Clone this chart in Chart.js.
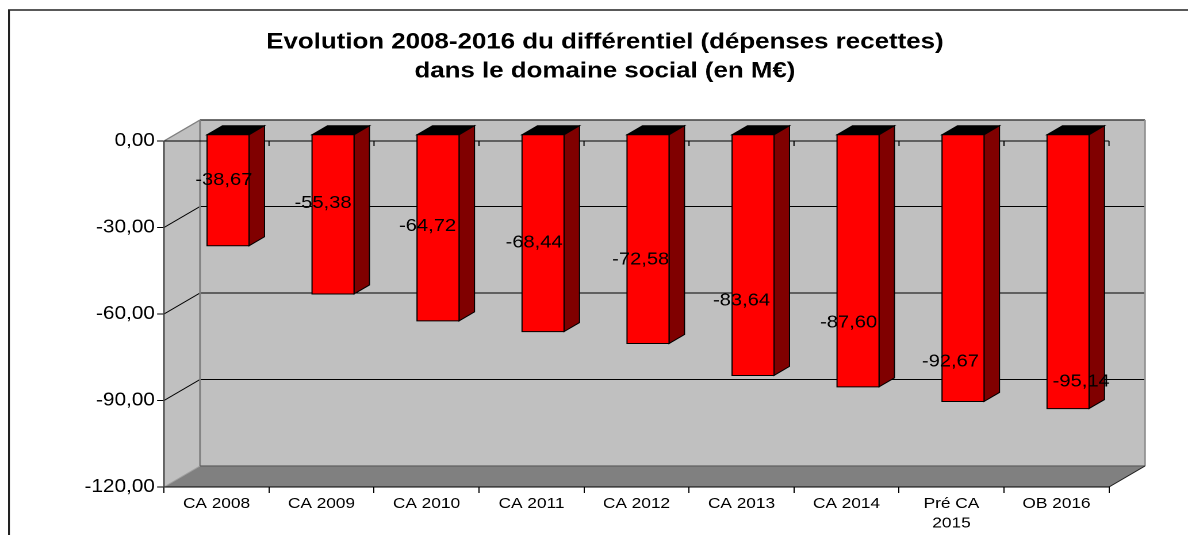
<!DOCTYPE html>
<html><head><meta charset="utf-8">
<script src="https://cdn.jsdelivr.net/npm/chart.js@4"></script>
<style>html,body{margin:0;padding:0;background:#fff;overflow:hidden}</style></head>
<body><canvas id="c" width="1033" height="535" style="width:1188px;height:535px;display:block"></canvas>
<script>
const categories = ['CA 2008','CA 2009','CA 2010','CA 2011','CA 2012','CA 2013','CA 2014',['Pré CA','2015'],'OB 2016'];
const values = [-38.67,-55.38,-64.72,-68.44,-72.58,-83.64,-87.60,-92.67,-95.14];
const yTicks = [0,-30,-60,-90,-120];
const labelAnchor = [-13.5,-21.5,-29.5,-35.2,-41.2,-55.4,-63.0,-76.5,-83.4];
const labelShift = [0.07,0.015,0.01,0.025,0.04,0,0.02,-0.01,0.235];
const titleLines = ['Evolution 2008-2016 du différentiel (dépenses recettes)','dans le domaine social (en M€)'];

const FONT = '"Liberation Sans", Arial, sans-serif';
const D3 = {dx:31.3, dy:-21, f1:0.32, f2:0.75};
const fmt = v => (Math.abs(v) < 1e-9 ? 0 : v).toFixed(2).replace('.', ',');

function poly(ctx, pts, fill, stroke, lw){
  ctx.beginPath();
  pts.forEach((p,i)=> i ? ctx.lineTo(p[0],p[1]) : ctx.moveTo(p[0],p[1]));
  ctx.closePath();
  if (fill){ ctx.fillStyle = fill; ctx.fill(); }
  if (stroke){ ctx.strokeStyle = stroke; ctx.lineWidth = lw || 1; ctx.stroke(); }
}
function line(ctx, x1,y1,x2,y2, color, lw){
  ctx.beginPath(); ctx.moveTo(x1,y1); ctx.lineTo(x2,y2);
  ctx.strokeStyle = color; ctx.lineWidth = lw || 1; ctx.stroke();
}

const box3d = {
  id:'box3d',
  beforeDraw(chart){
    const ctx = chart.ctx, ca = chart.chartArea, ys = chart.scales.y;
    const {dx, dy} = D3;
    ctx.save();
    ctx.fillStyle = '#fff'; ctx.fillRect(0,0,chart.width,chart.height);
    // frame
    ctx.beginPath(); ctx.moveTo(7.8, chart.height); ctx.lineTo(7.8, 10); ctx.lineTo(chart.width, 10);
    ctx.strokeStyle = '#222'; ctx.lineWidth = 1.6; ctx.stroke();
    // title
    ctx.fillStyle = '#000'; ctx.font = 'bold 22.5px ' + FONT; ctx.textAlign = 'center'; ctx.textBaseline = 'alphabetic';
    ctx.fillText(titleLines[0], 526, 48.5);
    ctx.fillText(titleLines[1], 526, 77.5);

    const L = ca.left, R = ca.right, T = ys.getPixelForValue(yTicks[0]), B = ys.getPixelForValue(yTicks[yTicks.length-1]);
    poly(ctx, [[L,T],[L+dx,T+dy],[L+dx,B+dy],[L,B]], '#c0c0c0');
    poly(ctx, [[L+dx,T+dy],[R+dx,T+dy],[R+dx,B+dy],[L+dx,B+dy]], '#c0c0c0');
    poly(ctx, [[L,B],[R,B],[R+dx,B+dy],[L+dx,B+dy]], '#808080');
    yTicks.slice(1, -1).forEach(v => {
      const y = ys.getPixelForValue(v);
      line(ctx, L, y, L+dx, y+dy, '#000', 1);
      line(ctx, L+dx, y+dy, R+dx, y+dy, '#000', 1);
    });
    line(ctx, L, T, L+dx, T+dy, '#808080', 1.3);
    line(ctx, L+dx, T+dy, R+dx, T+dy, '#404040', 1.5);
    line(ctx, L+dx, T+dy, L+dx, B+dy, '#808080', 1.5);
    line(ctx, R+dx, T+dy, R+dx, B+dy, '#909090', 1.5);
    line(ctx, L+dx, B+dy, R+dx, B+dy, '#606060', 1.3);
    line(ctx, L, B, L+dx, B+dy, '#a0a0a0', 1);
    line(ctx, R, B, R+dx, B+dy, '#202020', 1);
    line(ctx, L-6, T, R, T, '#000', 1);
    const n = categories.length, cw = (R-L)/n;
    for (let i = 1; i <= n; i++) line(ctx, L+i*cw, T, L+i*cw, T+5, '#000', 1);
    ctx.restore();
  },
  afterDatasetsDraw(chart){
    const ctx = chart.ctx, ys = chart.scales.y, xs = chart.scales.x;
    const {dx, dy, f1, f2} = D3;
    const ox1 = dx*f1, oy1 = dy*f1, ox2 = dx*f2, oy2 = dy*f2;
    const meta = chart.getDatasetMeta(0);
    ctx.save();
    ctx.lineJoin = 'miter';
    meta.data.forEach((bar) => {
      const p = bar.getProps(['x','y','base','width'], true);
      const x1 = p.x - p.width/2, x2 = p.x + p.width/2;
      const top = Math.min(p.y, p.base), bot = Math.max(p.y, p.base);
      poly(ctx, [[x1+ox1,top+oy1],[x2+ox1,top+oy1],[x2+ox2,top+oy2],[x1+ox2,top+oy2]], '#000000', '#000', 1);
      poly(ctx, [[x2+ox1,top+oy1],[x2+ox2,top+oy2],[x2+ox2,bot+oy2],[x2+ox1,bot+oy1]], '#800000', '#000', 1);
      poly(ctx, [[x1+ox1,top+oy1],[x2+ox1,top+oy1],[x2+ox1,bot+oy1],[x1+ox1,bot+oy1]], '#ff0000', '#000', 1);
    });
    const cw = (chart.chartArea.right - chart.chartArea.left) / categories.length;
    ctx.fillStyle = '#000'; ctx.font = '17.5px ' + FONT; ctx.textAlign = 'center'; ctx.textBaseline = 'middle';
    values.forEach((v, i) => {
      ctx.fillText(fmt(v), xs.getPixelForValue(i) + labelShift[i]*cw, ys.getPixelForValue(labelAnchor[i]));
    });
    ctx.restore();
  }
};

const canvas = document.getElementById('c');
new Chart(canvas, {
  type: 'bar',
  data: { labels: categories, datasets: [{ data: values, backgroundColor: 'rgba(0,0,0,0)', borderWidth: 0, categoryPercentage: 1, barPercentage: 0.4 }] },
  options: {
    responsive: false, animation: false, devicePixelRatio: 2,
    layout: { padding: { left: 0, right: 68.7, top: 141, bottom: 0 } },
    plugins: { legend: { display: false }, tooltip: { enabled: false }, title: { display: false } },
    scales: {
      x: {
        offset: true,
        grid: { display: true, drawOnChartArea: false, drawTicks: true, tickLength: 6, color: '#000', lineWidth: 1, offset: true },
        border: { display: true, color: '#000', width: 1 },
        ticks: { color: '#000', font: { family: FONT, size: 15, lineHeight: 1.3 }, padding: 1, maxRotation: 0, minRotation: 0, autoSkip: false },
        afterFit(s){ s.height = 48; }
      },
      y: {
        min: -120, max: 0,
        afterBuildTicks(s){ s.ticks = yTicks.map(v => ({ value: v })); },
        ticks: { color: '#000', font: { family: FONT, size: 18 }, padding: 2, callback: v => fmt(v) },
        grid: { drawOnChartArea: false, drawTicks: true, tickLength: 6, color: '#000', lineWidth: 1 },
        border: { display: true, color: '#404040', width: 1.2 },
        afterFit(s){ s.width = 142.6; }
      }
    }
  },
  plugins: [box3d]
});
canvas.style.width = '1188px';
canvas.style.height = '535px';
</script></body></html>
